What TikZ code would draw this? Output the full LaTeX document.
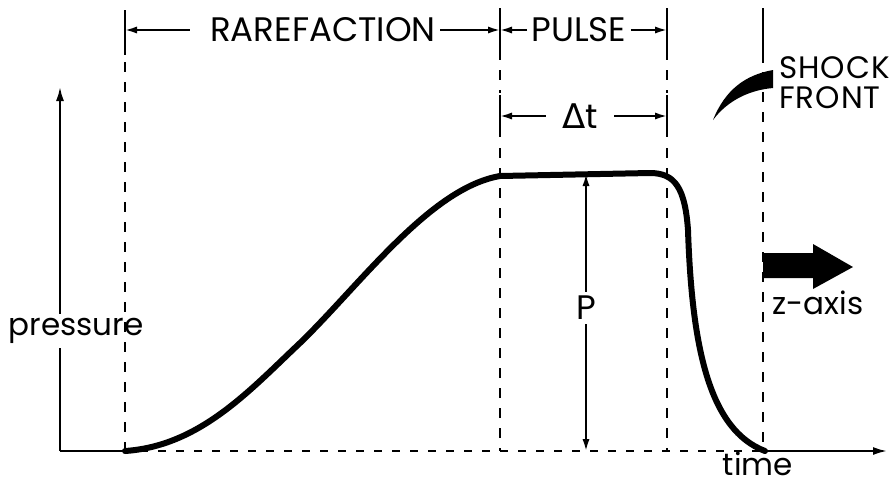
\documentclass[tikz,border=0pt]{standalone}
\usepackage{fontspec}
\setmainfont{Poppins}
\newfontfamily\symfont{DejaVu Sans}
\usepackage{tikz}
\usetikzlibrary{arrows.meta, calc}

\begin{document}
\begin{tikzpicture}[
    x=0.5pt, y=-0.5pt,
    label/.style={font=\fontsize{17}{19}\selectfont, inner sep=2pt},
    small/.style={font=\fontsize{15.5}{17}\selectfont, inner sep=2pt},
    axis/.style={line width=1pt},
    guide/.style={line width=1.1pt, dash pattern=on 5pt off 5pt},
    base/.style={line width=1pt, dash pattern=on 4pt off 5pt},
    dim/.style={line width=1pt, -{Latex[length=6pt,width=3.6pt]}},
    curve/.style={line width=3pt, line cap=round, line join=round}
]
\useasboundingbox (0,0) rectangle (896,484);

% Axes
\coordinate (orig) at (60,451);
\coordinate (ytop) at (60,87);
\coordinate (xend) at (887,451);
\coordinate (xa) at (122,451);
\coordinate (xb) at (763,451);
\node[small] (pres) at (76,331) {pressure};
\draw[axis] (orig) -- (pres.south -| orig);
\draw[axis, -{Latex[length=7pt,width=4pt]}] (pres.north -| orig) -- (ytop);
\draw[axis] (orig) -- (xa);
\draw[base] (xa) -- (xb);
\draw[axis, -{Latex[length=7pt,width=4pt]}] (xb) -- (xend);
\node[small, anchor=base] (time) at (758,475) {time};

% Guide lines
\coordinate (g1t) at (125,10);
\coordinate (g1b) at (125,451);
\coordinate (g2t) at (500,8);
\coordinate (g2b) at (500,451);
\coordinate (g3t) at (667,8);
\coordinate (g3b) at (667,451);
\coordinate (g4t) at (763,8);
\coordinate (g4b) at (763,451);
\draw[axis] (g1t) -- (125,55);
\draw[guide] (125,62) -- (g1b);
\foreach \gx/\gt/\gb in {2/g2t/g2b, 3/g3t/g3b}{
  \draw[axis] (\gt) -- ($(\gt)+(0,52)$);
  \draw[guide] ($(\gt)+(0,62)$) -- ($(\gt)+(0,85)$);
  \draw[axis] ($(\gt)+(0,87)$) -- ($(\gt)+(0,129)$);
  \draw[guide] ($(\gt)+(0,140)$) -- (\gb);
}
\draw[axis] (g4t) -- (763,63);
\draw[guide] (763,72) -- (g4b);

% Dimensions
\node[label] (rare) at (323,30) {RAREFACTION};
\node[label] (pulse) at (579,30) {PULSE};
\node[label] (dt) at (580,116) {{\symfont Δ}t};
\draw[dim] ([xshift=-8pt]rare.west) -- (rare.west -| g1t);
\draw[dim] (rare.east) -- (rare.east -| g2t);
\draw[dim] (pulse.west) -- (pulse.west -| g2t);
\draw[dim] (pulse.east) -- (pulse.east -| g3t);
\draw[dim] ([xshift=-6pt]dt.west) -- (dt.west -| g2t);
\draw[dim] ([xshift=6pt]dt.east) -- (dt.east -| g3t);

% Pressure curve
\coordinate (c0) at (125,451);
\coordinate (c1) at (300,343);
\coordinate (c2) at (500,176);
\coordinate (c3) at (650,173);
\coordinate (c4) at (688,230);
\coordinate (c5) at (765,451);
\draw[curve] (c0) .. controls (200,446) and (250,390) .. (c1)
  .. controls (360,285) and (430,188) .. (c2)
  -- (c3) .. controls (675,173) and (685,188) .. (c4)
  .. controls (692,350) and (710,430) .. (c5);

% Amplitude
\node[label] (pval) at (586,308) {P};
\coordinate (ptop) at (586,174);
\coordinate (pbot) at (586,451);
\draw[dim] (pval.north) -- (ptop);
\draw[dim] (pval.south) -- (pbot);

% Shock front
\fill (713,120) .. controls (725,90) and (745,75) .. (773,70) -- (773,88)
  .. controls (750,90) and (728,100) .. (713,120) -- cycle;
\node[small, anchor=north west, align=left, inner sep=0pt,
  font=\fontsize{15.5}{17}\selectfont\addfontfeatures{LetterSpace=3}] (shock) at (779,56) {SHOCK\\[-2pt]FRONT};

% Propagation direction
\fill (763,253) -- (813,253) -- (813,244) -- (853,267) -- (813,289) -- (813,278) -- (763,278) -- cycle;
\node[small] (zax) at (818,303) {z-axis};
\end{tikzpicture}
\end{document}
